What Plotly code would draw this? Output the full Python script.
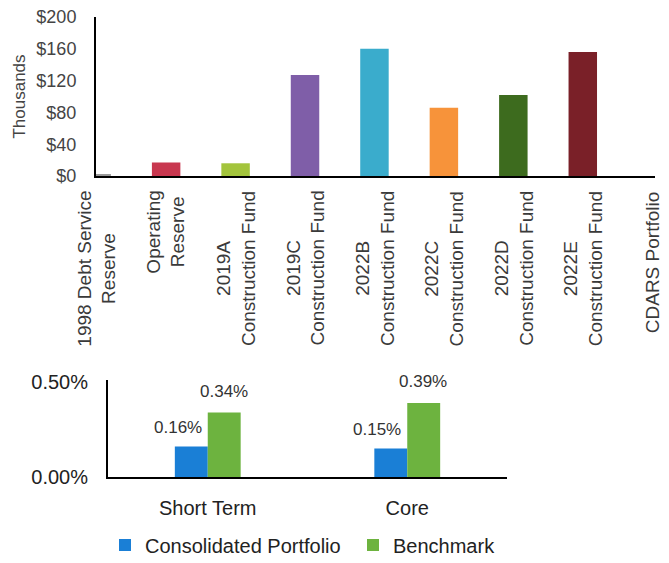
import plotly.graph_objects as go

W, H = 669, 563

# ---- top chart data (thousands of $) ----
fund_labels = [
    "1998 Debt Service<br>Reserve",
    "Operating<br>Reserve",
    "2019A<br>Construction Fund",
    "2019C<br>Construction Fund",
    "2022B<br>Construction Fund",
    "2022C<br>Construction Fund",
    "2022D<br>Construction Fund",
    "2022E<br>Construction Fund",
    "CDARS Portfolio",
]
fund_values = [1.5, 17, 16, 127, 160, 86, 102, 156, 0]
fund_colors = ["#9a9a9a", "#c8374f", "#a3c43c", "#7f5ea8", "#3aaccc",
               "#f7933a", "#3d6b1e", "#7a2028", "#888888"]
y_ticks = [0, 40, 80, 120, 160, 200]
y_ticktext = ["$0", "$40", "$80", "$120", "$160", "$200"]

# ---- bottom chart data (%) ----
perf_categories = ["Short Term", "Core"]
portfolio_values = [0.16, 0.15]
benchmark_values = [0.34, 0.39]
perf_ticks = [0, 0.5]
perf_ticktext = ["0.00%", "0.50%"]

FONT = "Liberation Sans, Arial, sans-serif"

fig = go.Figure()

fig.add_trace(go.Bar(
    x=fund_labels, y=fund_values, marker=dict(color=fund_colors, line=dict(width=0)),
    width=0.41, xaxis="x", yaxis="y", showlegend=False, hoverinfo="skip",
))

fig.add_trace(go.Bar(
    x=perf_categories, y=portfolio_values, name="Consolidated Portfolio",
    marker=dict(color="#1a7fd6", line=dict(width=0)),
    width=0.165, offset=-0.165, xaxis="x2", yaxis="y2",
))
fig.add_trace(go.Bar(
    x=perf_categories, y=benchmark_values, name="Benchmark",
    marker=dict(color="#6db33f", line=dict(width=0)),
    width=0.165, offset=0.0, xaxis="x2", yaxis="y2",
))

annotations = []
# rotated category labels for top chart
for lab in fund_labels:
    annotations.append(dict(
        x=lab, xref="x", y=(H - 189) / H, yref="paper",
        text=lab, textangle=-90, showarrow=False, align="center",
        xanchor="center", yanchor="top",
        font=dict(family=FONT, size=19, color="#3a3a3a"),
    ))
# value labels for bottom chart
for cat, pv, bv in zip(perf_categories, portfolio_values, benchmark_values):
    annotations.append(dict(
        x=cat, xref="x2", y=pv, yref="y2", text=f"{pv:.2f}%", showarrow=False,
        xshift=-30, yshift=19, font=dict(family=FONT, size=17, color="#333333"),
    ))
    annotations.append(dict(
        x=cat, xref="x2", y=bv, yref="y2", text=f"{bv:.2f}%", showarrow=False,
        xshift=16, yshift=21, font=dict(family=FONT, size=17, color="#333333"),
    ))

fig.update_layout(
    width=W, height=H,
    margin=dict(l=0, r=0, t=0, b=0, autoexpand=False),
    paper_bgcolor="white", plot_bgcolor="white",
    font=dict(family=FONT, color="#333333"),
    barmode="group",
    xaxis=dict(
        domain=[96 / W, 655 / W], anchor="y", type="category",
        range=[-0.01, 8.04], showticklabels=False, showgrid=False, zeroline=False,
        showline=True, linecolor="black", linewidth=2, automargin=False,
    ),
    yaxis=dict(
        domain=[(H - 176) / H, (H - 17) / H], anchor="x",
        range=[0, 200], tickvals=y_ticks, ticktext=y_ticktext,
        tickfont=dict(family=FONT, size=18, color="#444444"),
        showgrid=False, zeroline=False, showline=True, linecolor="black", linewidth=2,
        ticklabelstandoff=14, automargin=False,
        title=dict(text="Thousands", font=dict(family=FONT, size=17, color="#444444"), standoff=6),
    ),
    xaxis2=dict(
        domain=[108 / W, 507 / W], anchor="y2", type="category",
        range=[-0.5, 1.5], showgrid=False, zeroline=False,
        showline=True, linecolor="black", linewidth=2,
        tickfont=dict(family=FONT, size=20, color="#222222"),
        ticklabelstandoff=12, automargin=False,
    ),
    yaxis2=dict(
        domain=[(H - 477) / H, (H - 380) / H], anchor="x2",
        range=[0, 0.5105], tickvals=perf_ticks, ticktext=perf_ticktext,
        tickfont=dict(family=FONT, size=20, color="#222222"),
        showgrid=False, zeroline=False, showline=True, linecolor="black", linewidth=2,
        ticklabelstandoff=14, automargin=False,
    ),
    legend=dict(
        orientation="h", x=105 / W, xanchor="left", y=(H - 545) / H, yanchor="middle",
        font=dict(family=FONT, size=20, color="#222222"),
        itemwidth=30, traceorder="normal", entrywidth=203,
    ),
    annotations=annotations,
)

fig.write_html("out.html")
